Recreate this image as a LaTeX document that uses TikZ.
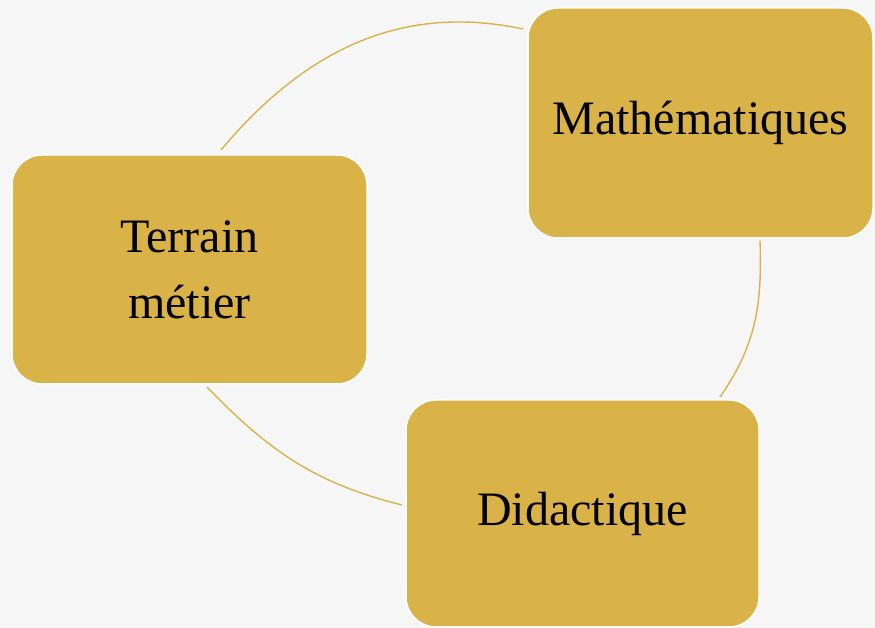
\documentclass[tikz,border=0pt]{standalone}
\usepackage{fontspec}
\setmainfont{Liberation Serif}
\usepackage{tikz}
\usetikzlibrary{arrows, shapes, calc}

\definecolor{ocre}{HTML}{D9B248}
\definecolor{fond}{HTML}{F6F6F6}

\begin{document}
\begin{tikzpicture}[>=latex, thick, inner sep=0pt, x=1pt, y=1pt,
		bloc/.style={draw=white, line width=1.5pt, fill=ocre, rounded corners=30pt, align=center, font=\fontsize{48}{66}\selectfont},
		lien/.style={draw=ocre, line width=1.4pt}]
			\fill[fond] (0,0) rectangle (875,628);
			\useasboundingbox (0,0) rectangle (875,628);
			
			\node[bloc, minimum width=345pt, minimum height=230pt] (math) at (700.5,505) {Mathématiques};
			\node[bloc, minimum width=355pt, minimum height=229pt] (terrain) at (189.5,358.5) {Terrain\\métier};
			\node[bloc, minimum width=353pt, minimum height=227pt] (didac) at (582.5,114.5) {Didactique};
			
			\coordinate (terrain_out) at (221,478);
			\coordinate (math_in) at (523,599);
			\coordinate (math_out) at (760,387);
			\coordinate (didac_in) at (720,231);
			\coordinate (didac_out) at (402,123);
			\coordinate (terrain_in) at (207,241);
			
			\draw[lien](terrain_out) to[out=50, in=168] (math_in);
			\draw[lien](math_out) to[out=-88, in=55] (didac_in);
			\draw[lien](terrain_in) to[out=-46, in=166] (didac_out);
		\end{tikzpicture}
\end{document}
